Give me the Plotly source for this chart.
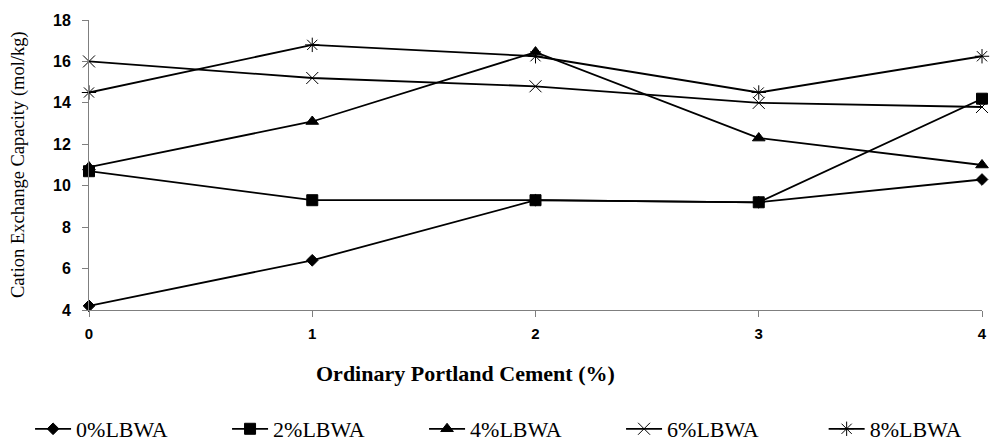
import plotly.graph_objects as go

opc = [0, 1, 2, 3, 4]
lbwa0 = [4.2, 6.4, 9.3, 9.2, 10.3]
lbwa2 = [10.7, 9.3, 9.3, 9.2, 14.2]
lbwa4 = [10.9, 13.1, 16.45, 12.3, 11.0]
lbwa6 = [16.0, 15.2, 14.8, 14.0, 13.8]
lbwa8 = [14.5, 16.8, 16.25, 14.5, 16.25]
names = ["0%LBWA", "2%LBWA", "4%LBWA", "6%LBWA", "8%LBWA"]

series = [lbwa0, lbwa2, lbwa4, lbwa6, lbwa8]
symbols = ["diamond", "square", "triangle-up", "x-thin-open", "asterisk-open"]
sizes = [9, 11, 11, 12, 12]
legend_ids = ["legend", "legend", "legend", "legend", "legend2"]

fig = go.Figure()
for name, vals, sym, sz, lg in zip(names, series, symbols, sizes, legend_ids):
    thin = sym.endswith("open")
    fig.add_trace(go.Scatter(
        x=opc, y=vals, name=name, mode="lines+markers",
        line=dict(color="black", width=1.8),
        marker=dict(symbol=sym, size=sz, color="black",
                    line=dict(color="#333333" if thin else "black", width=1)),
        cliponaxis=False, legend=lg,
    ))

legend_font = dict(family="Liberation Serif", size=22, color="black")
fig.update_layout(
    width=1002, height=445,
    margin=dict(l=89, r=20, t=15, b=135),
    paper_bgcolor="white", plot_bgcolor="white",
    showlegend=True,
    legend=dict(orientation="h", xref="container", yref="container",
                x=0.03, y=0.036, xanchor="left", yanchor="middle",
                itemwidth=36, entrywidth=146, entrywidthmode="pixels", font=legend_font),
    legend2=dict(orientation="h", xref="container", yref="container",
                 x=0.822, y=0.036, xanchor="left", yanchor="middle",
                 itemwidth=36, font=legend_font),
    annotations=[
        dict(text="Ordinary Portland Cement (%)", xref="paper", yref="paper",
             x=0.422, y=-0.22, xanchor="center", yanchor="middle", showarrow=False,
             font=dict(family="Liberation Serif", size=22, color="black", weight="bold")),
        dict(text="Cation Exchange Capacity (mol/kg)", xref="paper", yref="paper",
             x=-0.0795, y=0.5, xanchor="center", yanchor="middle", showarrow=False,
             textangle=-90,
             font=dict(family="Liberation Serif", size=18.5, color="black")),
    ],
)
fig.update_xaxes(range=[0, 4], tickvals=opc, showline=True, linecolor="#7f7f7f", linewidth=1,
                 ticks="outside", ticklen=6, tickcolor="#7f7f7f", showgrid=False, zeroline=False,
                 ticklabelstandoff=4,
                 tickfont=dict(family="Liberation Sans", size=15, color="black", weight="bold"))
fig.update_yaxes(range=[4, 18], dtick=2, showline=True, linecolor="#7f7f7f", linewidth=1,
                 ticks="outside", ticklen=6, tickcolor="#7f7f7f", showgrid=False, zeroline=False,
                 ticklabelstandoff=8,
                 tickfont=dict(family="Liberation Sans", size=16, color="black", weight="bold"))

fig.write_html("out.html")
